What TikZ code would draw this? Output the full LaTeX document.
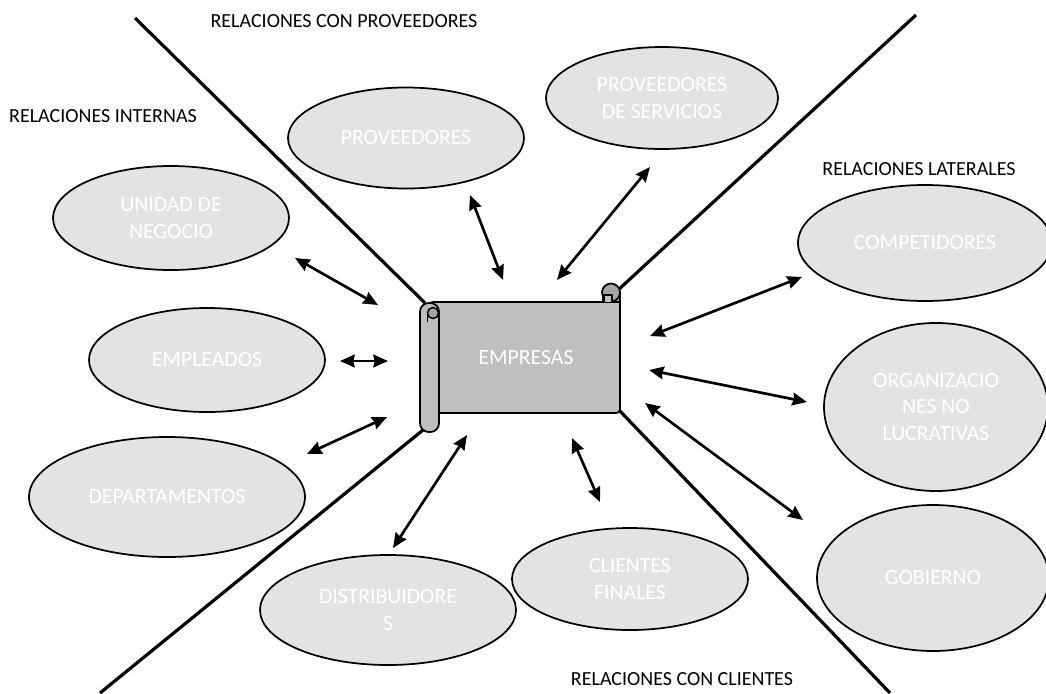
\documentclass[tikz,border=0pt]{standalone}
\usepackage{fontspec}
\setmainfont{Carlito}
\usetikzlibrary{arrows.meta,shapes.geometric}
\definecolor{ellfill}{HTML}{E3E3E3}
\definecolor{scrollfill}{HTML}{BFBFBF}
\definecolor{curlfill}{HTML}{A5A5A5}
\begin{document}
\begin{tikzpicture}[x=0.75pt,y=-0.75pt,
  ent/.style={ellipse, draw=black, line width=1.3pt, fill=ellfill, text=white,
    font=\fontsize{16.3}{20}\selectfont, align=center, inner sep=0pt},
  region/.style={font=\fontsize{15}{18}\selectfont, anchor=base, text=black, inner sep=0pt},
  divider/.style={line width=2.4pt, black},
  link/.style={line width=2pt,
    {Stealth[length=11pt,width=9.5pt,inset=1pt]}-{Stealth[length=11pt,width=9.5pt,inset=1pt]}},
  body/.style={draw=black, line width=1.3pt, fill=scrollfill, line join=round}
]
\useasboundingbox (0,0) rectangle (1046,693);

% dividing lines
\coordinate (ulo) at (135,18);  \coordinate (uli) at (425,303);
\coordinate (uro) at (916,15);  \coordinate (uri) at (617,291);
\coordinate (llo) at (100,693); \coordinate (lli) at (423,430);
\coordinate (lro) at (890,693); \coordinate (lri) at (618,409);
\draw[divider] (ulo) -- (uli);
\draw[divider] (uro) -- (uri);
\draw[divider] (llo) -- (lli);
\draw[divider] (lro) -- (lri);

% region labels
\node[region] (lprov) at (344,27) {RELACIONES CON PROVEEDORES};
\node[region] (lint) at (103,122) {RELACIONES INTERNAS};
\node[region] (llat) at (919,175) {RELACIONES LATERALES};
\node[region] (lcli) at (682,685) {RELACIONES CON CLIENTES};

% scroll (EMPRESAS)
\draw[body] (603,302) -- (603,292) -- (620,292) -- (620,302);
\draw[body] (432,302) -- (620,302) -- (620,405) .. controls (620,413) .. (612,413) -- (432,413) -- cycle;
\draw[draw=black, line width=1.3pt, fill=curlfill] (611,292.5) circle[radius=9];
\draw[body] (604,302) -- (604,295) -- (612,295) -- (612,302);
\draw[body, rounded corners=6.5pt] (420,303) rectangle (439,432);
\draw[draw=black, line width=1.1pt, fill=curlfill] (433,313) circle[radius=5.5];
\draw[line width=1.1pt] (427.5,313) -- (427.5,322);
\node[text=white, font=\fontsize{16.3}{20}\selectfont] (emp) at (526,358) {EMPRESAS};

% entities
\node[ent, minimum width=177pt, minimum height=75.75pt] (prov) at (406,138) {PROVEEDORES};
\node[ent, minimum width=174pt, minimum height=76.5pt] (serv) at (662,98) {PROVEEDORES\\DE SERVICIOS};
\node[ent, minimum width=177pt, minimum height=78pt] (unid) at (171,218) {UNIDAD DE\\NEGOCIO};
\node[ent, minimum width=177pt, minimum height=78pt] (empl) at (207,360) {EMPLEADOS};
\node[ent, minimum width=207pt, minimum height=90pt] (dept) at (167,497) {DEPARTAMENTOS};
\node[ent, minimum width=192pt, minimum height=82.5pt] (dist) at (388,610) {DISTRIBUIDORE\\S};
\node[ent, minimum width=177pt, minimum height=76.5pt] (cli) at (630,579) {CLIENTES\\FINALES};
\node[ent, minimum width=190.5pt, minimum height=87pt] (comp) at (925,243) {COMPETIDORES};
\node[ent, minimum width=168pt, minimum height=126pt] (org) at (936,407) {ORGANIZACIO\\NES NO\\LUCRATIVAS};
\node[ent, minimum width=174pt, minimum height=109.5pt] (gob) at (933,578) {GOBIERNO};

% arrow end points
\coordinate (a1e) at (503,280); \coordinate (a1p) at (470,195);
\coordinate (a2e) at (557,280); \coordinate (a2p) at (650,167);
\coordinate (a3e) at (378,305); \coordinate (a3p) at (295,258);
\coordinate (a4e) at (388,361); \coordinate (a4p) at (340,361);
\coordinate (a5e) at (387,417); \coordinate (a5p) at (307,454);
\coordinate (a6e) at (467,435); \coordinate (a6p) at (393,548);
\coordinate (a7e) at (572,438); \coordinate (a7p) at (600,502);
\coordinate (a8e) at (650,336); \coordinate (a8p) at (802,277);
\coordinate (a9e) at (649,370); \coordinate (a9p) at (807,402);
\coordinate (a10e) at (645,403); \coordinate (a10p) at (803,520);
\foreach \i in {1,...,10} { \draw[link] (a\i e) -- (a\i p); }
\end{tikzpicture}
\end{document}
